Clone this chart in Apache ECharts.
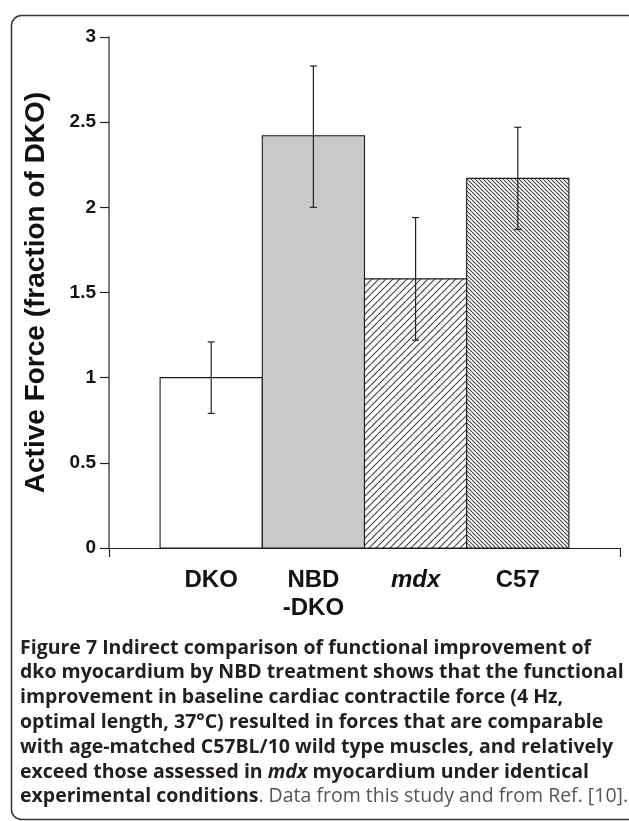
<!DOCTYPE html>
<html>
<head>
<meta charset="utf-8">
<script src="https://cdn.jsdelivr.net/npm/echarts@6/dist/echarts.min.js"></script>
<style>
html,body{margin:0;padding:0;background:#fff;}
#c{width:629px;height:821px;}
</style>
</head>
<body>
<div id="c"></div>
<script>
// ---- data ----
const categories = ['DKO', 'NBD\n-DKO', 'mdx', 'C57'];
const means = [1.00, 2.42, 1.58, 2.17];
const errLow = [0.79, 2.00, 1.22, 1.87];
const errHigh = [1.21, 2.83, 1.94, 2.47];
const yMin = 0, yMax = 3, yStep = 0.5;
const yTitle = 'Active Force (fraction of DKO)';
const captionLines = [
  '{b|Figure 7} {b|Indirect comparison of functional improvement of}',
  '{b|dko myocardium by NBD treatment shows that the functional}',
  '{b|improvement in baseline cardiac contractile force (4 Hz,}',
  '{b|optimal length, 37°C) resulted in forces that are comparable}',
  '{b|with age-matched C57BL/10 wild type muscles, and relatively}',
  '{b|exceed those assessed in }{bi|mdx}{b| myocardium under identical}',
  '{b|experimental conditions}{r|. Data from this study and from Ref. [10].}'
];

// ---- hatch patterns ----
function hatch(size, dir, color, lw) {
  const c = document.createElement('canvas');
  c.width = size; c.height = size;
  const g = c.getContext('2d');
  g.fillStyle = '#fff'; g.fillRect(0, 0, size, size);
  g.strokeStyle = color; g.lineWidth = lw;
  g.beginPath();
  for (let k = -1; k <= 1; k++) {
    if (dir === '/') { g.moveTo(k * size, size); g.lineTo(k * size + size, 0); }
    else { g.moveTo(k * size, 0); g.lineTo(k * size + size, size); }
  }
  g.stroke();
  return { type: 'pattern', image: c, repeat: 'repeat' };
}
const fills = ['#ffffff', '#c9c9c9', hatch(7, '/', '#444', 1.2), hatch(4, '\\', '#444', 1.1)];

const barData = means.map((m, i) => [i, m]);
const errData = means.map((m, i) => [i, errLow[i], errHigh[i]]);

const FONT = 'Liberation Sans, Arial, sans-serif';
const CAP = 'Open Sans, sans-serif';
const CS = 19.5, CLH = 24.8;

const chart = echarts.init(document.getElementById('c'), null, { renderer: 'canvas' });
chart.setOption({
  animation: false,
  backgroundColor: '#fff',
  grid: { left: 109, top: 37, width: 511, height: 511, containLabel: false },
  xAxis: {
    type: 'value', min: -1, max: 4, interval: 1,
    splitLine: { show: false },
    axisLine: { show: true, onZero: false, lineStyle: { color: '#222', width: 1.2 } },
    axisTick: { show: true, customValues: [-1, 4], length: 9, inside: false, lineStyle: { color: '#222', width: 1.2 } },
    axisLabel: {
      customValues: [0, 1, 2, 3],
      margin: 18,
      fontFamily: FONT,
      fontSize: 24, fontWeight: 'bold', color: '#111', lineHeight: 28,
      formatter: v => {
        const s = categories[Math.round(v)] || '';
        return s === 'mdx' ? '{i|' + s + '}' : s;
      },
      rich: { i: { fontStyle: 'italic', fontWeight: 'bold', fontSize: 24, lineHeight: 28, fontFamily: FONT, color: '#111' } }
    }
  },
  yAxis: {
    type: 'value', min: yMin, max: yMax, interval: yStep,
    name: yTitle, nameLocation: 'middle', nameGap: 59, nameRotate: 90,
    nameTextStyle: { fontFamily: FONT, fontSize: 28, fontWeight: 'bold', color: '#111' },
    splitLine: { show: false },
    axisLine: { show: true, onZero: false, lineStyle: { color: '#555', width: 1.5 } },
    axisTick: { show: true, length: 9, lineStyle: { color: '#222', width: 1.2 } },
    axisLabel: { margin: 13, fontFamily: FONT, fontSize: 19, fontWeight: 'bold', color: '#111' }
  },
  series: [
    {
      type: 'custom', data: barData, z: 2,
      renderItem: (params, api) => {
        const x = api.value(0), y = api.value(1);
        const p0 = api.coord([x - 0.5, 0]);
        const p1 = api.coord([x + 0.5, y]);
        return {
          type: 'rect',
          shape: { x: p0[0], y: p1[1], width: p1[0] - p0[0], height: p0[1] - p1[1] },
          style: { fill: fills[params.dataIndex], stroke: '#1a1a1a', lineWidth: 1.1 }
        };
      }
    },
    {
      type: 'custom', data: errData, z: 3,
      renderItem: (params, api) => {
        const x = api.value(0);
        const lo = api.coord([x, api.value(1)]);
        const hi = api.coord([x, api.value(2)]);
        const hw = 3.5;
        const st = { stroke: '#222', lineWidth: 1.2, fill: null };
        return {
          type: 'group',
          children: [
            { type: 'line', shape: { x1: lo[0], y1: lo[1], x2: hi[0], y2: hi[1] }, style: st },
            { type: 'line', shape: { x1: lo[0] - hw, y1: lo[1], x2: lo[0] + hw, y2: lo[1] }, style: st },
            { type: 'line', shape: { x1: hi[0] - hw, y1: hi[1], x2: hi[0] + hw, y2: hi[1] }, style: st }
          ]
        };
      }
    }
  ],
  graphic: [
    {
      type: 'rect', left: 9, top: 13, z: 0, silent: true,
      shape: { width: 640, height: 804, r: 10 },
      style: { fill: null, stroke: '#333', lineWidth: 1.5 }
    },
    {
      type: 'text', left: 20, top: 648 - CLH / 2, z: 5,
      style: {
        text: captionLines.join('\n'),
        fontFamily: CAP, fontSize: CS, lineHeight: CLH,
        fill: '#222',
        rich: {
          b: { fontFamily: CAP, fontWeight: 'bold', fontSize: CS, lineHeight: CLH, fill: '#231f20' },
          bi: { fontFamily: CAP, fontWeight: 'bold', fontStyle: 'italic', fontSize: CS, lineHeight: CLH, fill: '#231f20' },
          r: { fontFamily: CAP, fontWeight: 'normal', fontSize: CS, lineHeight: CLH, fill: '#555' }
        }
      }
    }
  ]
});
</script>
</body>
</html>
